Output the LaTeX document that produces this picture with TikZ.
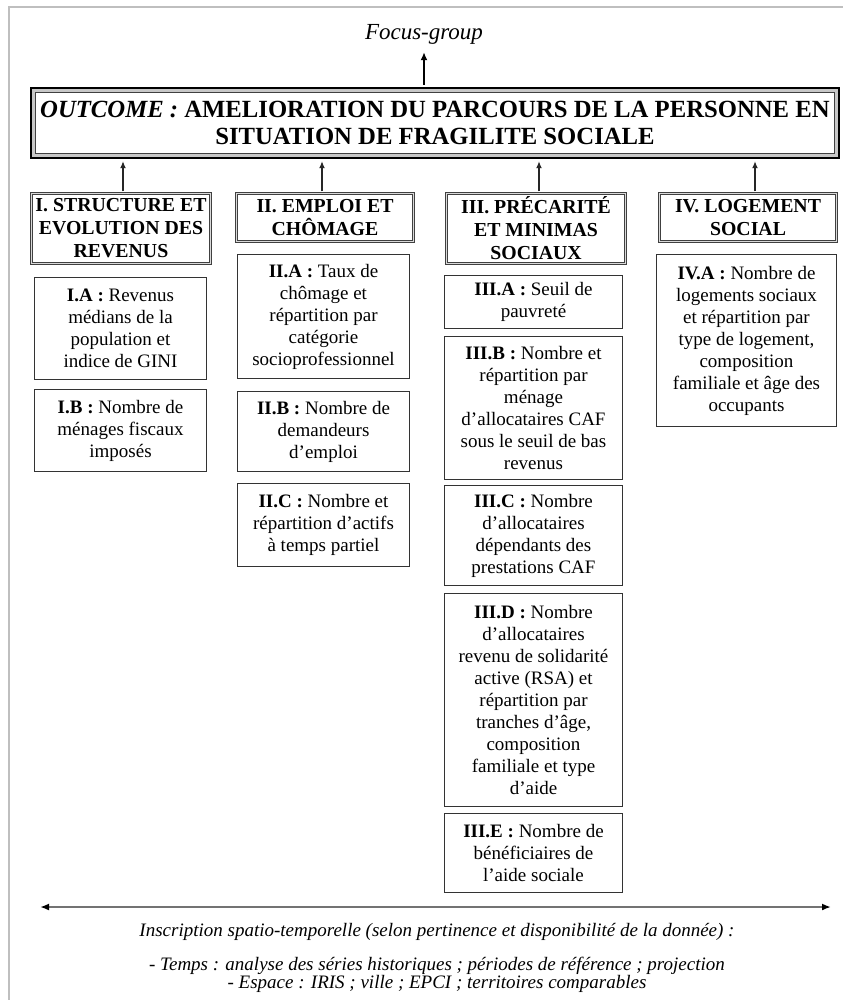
\documentclass[tikz,border=0pt]{standalone}
\usepackage{fontspec}
\setmainfont{Liberation Serif}
\usetikzlibrary{arrows.meta}
\begin{document}
\begin{tikzpicture}[x=1pt,y=-1pt,
  sub/.style={draw=black!80, line width=1.3pt, align=center, inner sep=0pt, font=\fontsize{19}{22}\selectfont},
  cat/.style={draw=black!75, double=black!15, double distance=1.4pt, line width=1pt, align=center, inner sep=0pt, font=\bfseries\fontsize{19.8}{23}\selectfont},
  up/.style={-{Latex[length=7pt,width=6pt]}, line width=1.2pt, black!85},
  ital/.style={font=\itshape\fontsize{19}{18.5}\selectfont, align=center, inner sep=0pt}
]
\useasboundingbox (0,0) rectangle (843,1000);
\fill[white] (0,0) rectangle (843,1000);
\draw[black!25, line width=1.2pt] (9,1000) -- (9,7) -- (843,7);

% title and outcome
\node[font=\itshape\fontsize{23}{25}\selectfont, inner sep=0pt] (fg) at (424,34) {Focus-group};
\node[draw=black, line width=4.5pt, minimum width=805.5pt, minimum height=67.5pt, inner sep=0pt, align=center, font=\bfseries\fontsize{24.7}{27}\selectfont] (out) at (435,123) {\textit{OUTCOME :} AMELIORATION DU PARCOURS DE LA PERSONNE EN\\SITUATION DE FRAGILITE SOCIALE};
\draw[black!22, line width=2.5pt] ([shift={(3.5,3.5)}]out.north west) rectangle ([shift={(-3.5,-3.5)}]out.south east);
\draw[black!75, line width=0.9pt] ([shift={(5.5,5.5)}]out.north west) rectangle ([shift={(-5.5,-5.5)}]out.south east);
\draw[-{Latex[length=8pt,width=7pt]}, line width=2.2pt] ([yshift=2.25pt]out.north -| fg) -- ([yshift=-8pt]fg.south);

% categories
\node[cat, minimum width=178.6pt, minimum height=69.6pt] (c1) at (121,228.5) {I. STRUCTURE ET\\EVOLUTION DES\\REVENUS};
\node[cat, minimum width=176.6pt, minimum height=47.6pt] (c2) at (325,217.5) {II. EMPLOI ET\\CHÔMAGE};
\node[cat, minimum width=178.6pt, minimum height=69.6pt] (c3) at (536,228.5) {III. PRÉCARITÉ\\ET MINIMAS\\SOCIAUX};
\node[cat, minimum width=176.6pt, minimum height=47.6pt] (c4) at (748,217.5) {IV. LOGEMENT\\SOCIAL};

\draw[up, shorten >=2.25pt] ([xshift=2pt,yshift=1.7pt]c1.north) -- ([xshift=2pt]c1.north |- out.south);
\draw[up, shorten >=2.25pt] ([xshift=-3pt,yshift=1.7pt]c2.north) -- ([xshift=-3pt]c2.north |- out.south);
\draw[up, shorten >=2.25pt] ([xshift=3pt,yshift=1.7pt]c3.north) -- ([xshift=3pt]c3.north |- out.south);
\draw[up, shorten >=2.25pt] ([xshift=7pt,yshift=1.7pt]c4.north) -- ([xshift=7pt]c4.north |- out.south);

% column I
\node[sub, minimum width=171.7pt, minimum height=101.7pt] (ia) at (120.5,328.5) {\textbf{I.A :} Revenus\\médians de la\\population et\\indice de GINI};
\node[sub, minimum width=171.7pt, minimum height=81.7pt] (ib) at (120.5,430.5) {\textbf{I.B :} Nombre de\\ménages fiscaux\\imposés};

% column II
\node[sub, minimum width=171.7pt, minimum height=123.7pt] (iia) at (323.5,316.5) {\textbf{II.A :} Taux de\\chômage et\\répartition par\\catégorie\\socioprofessionnel};
\node[sub, minimum width=171.7pt, minimum height=79.7pt] (iib) at (323.5,431.5) {\textbf{II.B :} Nombre de\\demandeurs\\d’emploi};
\node[sub, minimum width=171.7pt, minimum height=82.7pt] (iic) at (323.5,525) {\textbf{II.C :} Nombre et\\répartition d’actifs\\à temps partiel};

% column III
\node[sub, minimum width=177.7pt, minimum height=52.7pt] (iiia) at (533.5,302) {\textbf{III.A :} Seuil de\\pauvreté};
\node[sub, minimum width=177.7pt, minimum height=142.7pt] (iiib) at (533.5,408) {\textbf{III.B :} Nombre et\\répartition par\\ménage\\d’allocataires CAF\\sous le seuil de bas\\revenus};
\node[sub, minimum width=177.7pt, minimum height=99.7pt] (iiic) at (533.5,535.5) {\textbf{III.C :} Nombre\\d’allocataires\\dépendants des\\prestations CAF};
\node[sub, minimum width=177.7pt, minimum height=212.7pt] (iiid) at (533.5,700) {\textbf{III.D :} Nombre\\d’allocataires\\revenu de solidarité\\active (RSA) et\\répartition par\\tranches d’âge,\\composition\\familiale et type\\d’aide};
\node[sub, minimum width=177.7pt, minimum height=78.7pt] (iiie) at (533.5,853) {\textbf{III.E :} Nombre de\\bénéficiaires de\\l’aide sociale};

% column IV
\node[sub, minimum width=179.7pt, minimum height=171.7pt] (iva) at (746.5,340.5) {\textbf{IV.A :} Nombre de\\logements sociaux\\et répartition par\\type de logement,\\composition\\familiale et âge des\\occupants};

% bottom axis
\coordinate (la) at (40,907);
\coordinate (ra) at (831,907);
\draw[black!55, line width=2.8pt, {Latex[black,length=9pt,width=7pt]}-{Latex[black,length=9pt,width=7pt]}] (la) -- (ra);

\node[ital] (ins) at (437,932) {Inscription spatio-temporelle (selon pertinence et disponibilité de la donnée) :};
\node[ital] (te) at (437,975) {- Temps : analyse des séries historiques ; périodes de référence ; projection\\- Espace : IRIS ; ville ; EPCI ; territoires comparables};
\end{tikzpicture}
\end{document}
